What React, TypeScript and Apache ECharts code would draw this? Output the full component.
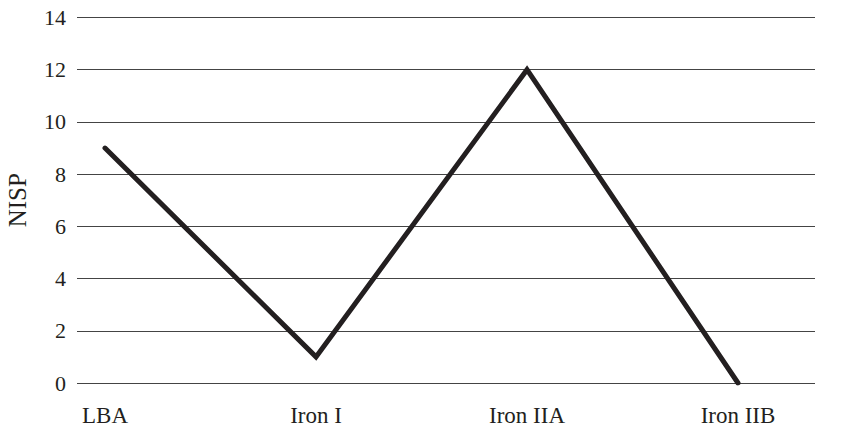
import React, { useEffect, useRef } from "react";
import * as echarts from "echarts";

const categories = ["LBA", "Iron I", "Iron IIA", "Iron IIB"];
const nispValues = [9, 1, 12, 0];
const yMin = 0;
const yMax = 14;
const yInterval = 2;

const FONT = "'Liberation Serif', 'DejaVu Serif', serif";

export default function App() {
  const ref = useRef<HTMLDivElement>(null);
  useEffect(() => {
    if (!ref.current) return;
    const chart = echarts.init(ref.current, null, { renderer: "svg" });
    chart.setOption({
      animation: false,
      backgroundColor: "#ffffff",
      grid: [
        { left: 77, right: 27, top: 17.5, bottom: 46, outerBoundsMode: "none", containLabel: false },
        { left: 105, right: 104, top: 17.5, bottom: 46, outerBoundsMode: "none", containLabel: false },
      ],
      xAxis: [
        { type: "value", gridIndex: 0, show: false, min: 0, max: 1 },
        {
          type: "category",
          gridIndex: 1,
          data: categories,
          boundaryGap: false,
          axisLine: { show: false },
          axisTick: { show: false },
          axisLabel: { color: "#231f20", fontFamily: FONT, fontSize: 23, margin: 21 },
        },
      ],
      yAxis: [
        {
          type: "value",
          gridIndex: 0,
          min: yMin,
          max: yMax,
          interval: yInterval,
          name: "NISP",
          nameLocation: "middle",
          nameGap: 47,
          nameTextStyle: { color: "#231f20", fontFamily: FONT, fontSize: 25 },
          axisLine: { show: false },
          axisTick: { show: false },
          axisLabel: { color: "#231f20", fontFamily: FONT, fontSize: 22, margin: 11 },
          splitLine: { show: true, lineStyle: { color: "#444444", width: 1 } },
        },
        { type: "value", gridIndex: 1, min: yMin, max: yMax, interval: yInterval, show: false, splitLine: { show: false } },
      ],
      series: [
        {
          type: "line",
          xAxisIndex: 1,
          yAxisIndex: 1,
          data: nispValues,
          symbol: "none",
          lineStyle: { color: "#231f20", width: 5, cap: "round", join: "miter" },
        },
      ],
    });
    return () => chart.dispose();
  }, []);
  return <div ref={ref} style={{ position: "absolute", left: 0, top: 0, width: 842, height: 429 }} />;
}
